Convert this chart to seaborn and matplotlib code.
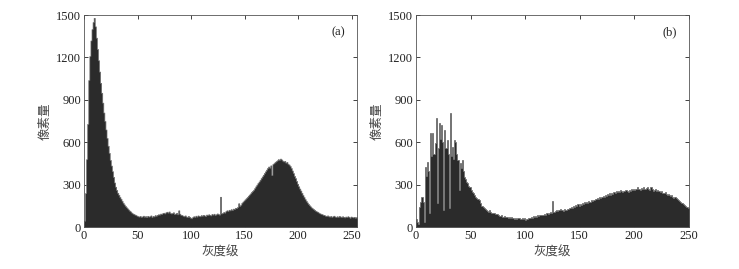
import numpy as np
import pandas as pd
import matplotlib
matplotlib.use("Agg")
import matplotlib.pyplot as plt
import seaborn as sns

# 直方图数据 (a) 原图, 灰度级 0-255
counts_a = [
    45, 240, 480, 730, 1040, 1210, 1320, 1400, 1450, 1480, 1420, 1340, 1260, 1180, 1100, 1020,
    950, 880, 810, 750, 690, 630, 575, 525, 475, 435, 395, 355, 315, 285, 262, 242,
    228, 212, 200, 186, 172, 160, 150, 140, 132, 124, 116, 110, 102, 96, 92, 88,
    84, 80, 76, 74, 78, 72, 75, 80, 73, 77, 70, 79, 74, 76, 82, 71,
    78, 75, 84, 80, 86, 90, 88, 95, 92, 98, 101, 96, 104, 108, 102, 110,
    100, 96, 98, 104, 92, 95, 100, 90, 118, 94, 86, 84, 80, 76, 82, 74,
    70, 78, 72, 66, 62, 70, 76, 72, 80, 74, 82, 78, 76, 84, 80, 86,
    82, 78, 88, 84, 90, 86, 82, 92, 88, 94, 86, 90, 96, 92, 88, 214,
    96, 100, 106, 102, 112, 118, 114, 122, 118, 126, 120, 130, 128, 136, 134, 142,
    168, 150, 158, 172, 180, 188, 196, 204, 212, 222, 230, 238, 248, 256, 264, 276,
    288, 300, 312, 322, 334, 346, 358, 370, 382, 394, 406, 418, 428, 420, 436, 368,
    446, 452, 460, 466, 472, 480, 476, 484, 478, 470, 464, 468, 456, 460, 448, 442,
    432, 418, 400, 382, 362, 346, 326, 306, 288, 272, 258, 242, 226, 212, 198, 186,
    174, 164, 154, 146, 138, 132, 126, 120, 114, 110, 106, 100, 96, 92, 90, 86,
    84, 80, 78, 82, 76, 74, 78, 72, 76, 80, 74, 70, 76, 72, 78, 74,
    70, 76, 72, 68, 74, 70, 76, 72, 66, 74, 70, 68, 72, 66, 70, 64,
]

# 直方图数据 (b) 处理后, 灰度级 0-250
counts_b = [
    55, 38, 25, 144, 180, 215, 180, 38, 427, 360, 462, 400, 97, 663, 500, 663,
    520, 592, 774, 167, 560, 734, 620, 722, 600, 120, 687, 560, 616, 520, 132, 805,
    500, 569, 480, 616, 604, 520, 474, 262, 450, 420, 474, 400, 356, 340, 320, 309,
    290, 280, 262, 250, 240, 227, 215, 205, 200, 195, 191, 170, 150, 140, 132, 125,
    120, 112, 106, 118, 104, 100, 96, 98, 94, 90, 92, 86, 80, 78, 82, 74,
    70, 76, 68, 72, 66, 70, 64, 68, 62, 66, 60, 64, 58, 62, 66, 60,
    58, 64, 56, 62, 52, 60, 58, 64, 62, 70, 66, 80, 74, 78, 72, 82,
    78, 86, 82, 88, 84, 92, 88, 96, 98, 94, 100, 104, 98, 185, 106, 110,
    118, 112, 122, 118, 126, 120, 124, 116, 128, 122, 130, 126, 136, 132, 144, 138,
    150, 142, 156, 148, 160, 152, 166, 158, 170, 164, 176, 168, 180, 172, 186, 178,
    190, 184, 194, 188, 200, 196, 204, 198, 210, 204, 216, 222, 214, 228, 220, 232,
    226, 238, 230, 242, 236, 248, 240, 252, 246, 256, 250, 260, 252, 248, 258, 254,
    262, 256, 250, 262, 258, 266, 260, 270, 264, 272, 266, 280, 270, 264, 276, 268,
    282, 272, 266, 278, 284, 270, 262, 280, 266, 258, 264, 270, 256, 260, 252, 258,
    248, 254, 244, 240, 246, 236, 230, 236, 226, 220, 226, 214, 208, 214, 202, 196,
    190, 184, 178, 172, 168, 160, 156, 150, 144, 138, 134,
]

panel_labels = ["(a)", "(b)"]
xlims = [255, 250]
yticks = [0, 300, 600, 900, 1200, 1500]
xticks = [0, 50, 100, 150, 200, 250]

sns.set_theme(style="ticks")
plt.rcParams["font.family"] = ["Liberation Serif", "Noto Sans CJK SC"]

fig = plt.figure(figsize=(7.39, 2.69), dpi=100)
ax_a = fig.add_axes([0.1137, 0.156, 0.3694, 0.788])
ax_b = fig.add_axes([0.5629, 0.156, 0.3690, 0.788])

for ax, counts, lab, xmax in zip([ax_a, ax_b], [counts_a, counts_b], panel_labels, xlims):
    df = pd.DataFrame({"level": np.arange(len(counts)), "count": counts})
    sns.histplot(data=df, x="level", weights="count", binwidth=1,
                 binrange=(0, len(counts)), ax=ax, element="step", fill=True,
                 color="#2b2b2b", edgecolor="#6a6a6a", linewidth=0.5, alpha=1)
    ax.set_xlim(0, xmax)
    ax.set_ylim(0, 1500)
    ax.set_xticks(xticks)
    ax.set_yticks(yticks)
    ax.tick_params(direction="in", top=True, right=True, length=3, width=0.6,
                   labelsize=9, colors="#222222", pad=2)
    for s in ax.spines.values():
        s.set_linewidth(0.6)
        s.set_color("#555555")
    ax.set_xlabel("灰度级", family=["Noto Sans CJK SC"], fontsize=9, color="#444444", labelpad=3)
    ax.set_ylabel("像素量", family=["Noto Sans CJK SC"], fontsize=9, color="#444444", labelpad=3)
    ax.text(0.955, 0.945, lab, transform=ax.transAxes, ha="right", va="top",
            fontsize=9, color="#222222")

fig.savefig("out.png", dpi=100)
